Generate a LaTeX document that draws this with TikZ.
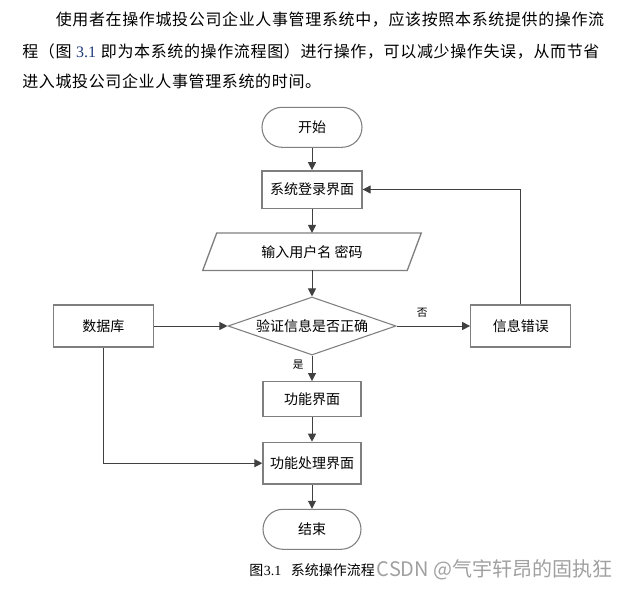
\documentclass[tikz,border=0pt]{standalone}
\usepackage{fontspec}
\setmainfont{Noto Sans CJK SC}
\newfontfamily\tnr{Liberation Serif}
\newfontfamily\paraf[LetterSpace=4]{Noto Sans CJK SC}
\usetikzlibrary{arrows.meta,shapes.geometric}
\definecolor{linec}{HTML}{404040}
\definecolor{boxc}{HTML}{7F7F7F}
\definecolor{numblue}{HTML}{1F3A7A}
\definecolor{wmgray}{HTML}{A0A0A0}
\begin{document}
\begin{tikzpicture}[x=0.75pt,y=-0.75pt,
  every node/.style={font=\fontsize{10.5pt}{12pt}\selectfont, inner sep=0pt},
  procbox/.style={draw=boxc, line width=1pt, fill=white, rectangle, minimum width=75pt},
  termbox/.style={draw=boxc, line width=0.8pt, rectangle, rounded corners=15pt, minimum width=75pt, minimum height=30pt},
  conn/.style={draw=linec, line width=0.75pt, -{Triangle[length=6pt,width=6pt]}},
  para/.style={anchor=west, font=\paraf\fontsize{12pt}{14pt}\selectfont},
  yn/.style={font=\fontsize{8pt}{9pt}\selectfont}]
\useasboundingbox (0,0) rectangle (622,589);

% paragraph
\node[para] (l1) at (55.5,20) {使用者在操作城投公司企业人事管理系统中，应该按照本系统提供的操作流};
\node[para] (l2) at (22,51.7) {程（图\hspace{3.5pt}{\tnr\color{numblue}3.1}\hspace{3.5pt}即为本系统的操作流程图）进行操作，可以减少操作失误，从而节省};
\node[para] (l3) at (22,81.7) {进入城投公司企业人事管理系统的时间。};

% nodes
\node[termbox] (start) at (312,127.3) {开始};
\node[procbox, minimum height=28pt] (login) at (312,189.5) {系统登录界面};
\node[minimum width=153pt, minimum height=27.75pt] (input) at (312,251.7) {输入用户名 密码};
\draw[draw=boxc, line width=1pt]
  ([xshift=5.25pt]input.north west) -- ([xshift=5.25pt]input.north east)
  -- ([xshift=-5.25pt]input.south east) -- ([xshift=-5.25pt]input.south west) -- cycle;
\node[diamond, draw=boxc, line width=0.8pt, aspect=2.9, minimum width=126pt, minimum height=43.5pt] (check) at (312,326) {验证信息是否正确};
\node[procbox, minimum height=31.5pt] (db) at (103.3,326) {数据库};
\node[procbox, minimum height=31.5pt] (err) at (520.8,326) {信息错误};
\node[procbox, minimum width=73.5pt, minimum height=26.25pt] (func) at (312,399.2) {功能界面};
\node[procbox, minimum width=73.5pt, minimum height=31.25pt] (proc) at (312,463.2) {功能处理界面};
\node[termbox, minimum width=73.5pt] (end) at (312,529.3) {结束};

% connectors
\draw[conn] (start) -- (login);
\draw[conn] (login) -- (input);
\draw[conn] (input) -- (check);
\draw[conn] (check) -- node[yn, pos=0.35, left=6pt] {是} (func);
\draw[conn] (func) -- (proc);
\draw[conn] (proc) -- (end);
\draw[conn] (db) -- (check);
\draw[conn] (check) -- node[yn, pos=0.35, above=6pt] {否} (err);
\draw[conn] (err.north) |- (login.east);
\draw[conn] (db.south) |- (proc.west);

% caption and watermark
\node[anchor=west] (cap) at (249,570) {图\hspace{0.5pt}{\tnr\fontsize{10.5pt}{11pt}\selectfont 3.1}\hspace{7pt}系统操作流程};
\node[anchor=west, font=\fontsize{15pt}{16pt}\selectfont, text=wmgray] (wm) at (376.5,570) {CSDN @气宇轩昂的固执狂};
\end{tikzpicture}
\end{document}
